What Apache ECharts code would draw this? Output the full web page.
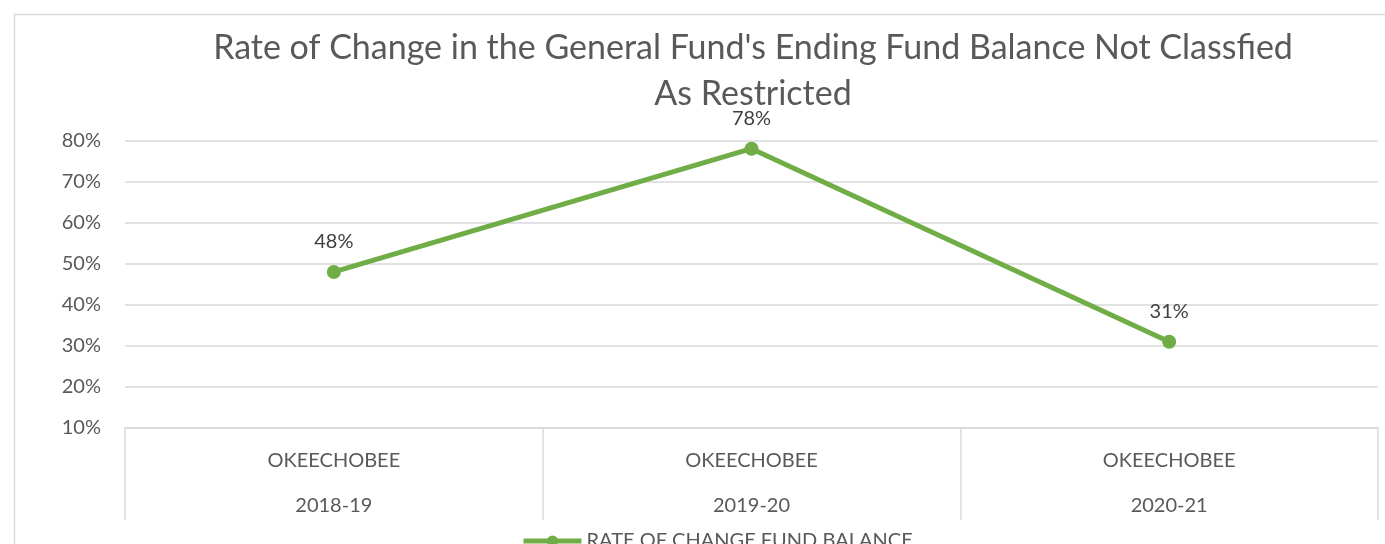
<!DOCTYPE html>
<html>
<head>
<meta charset="utf-8">
<script src="https://cdn.jsdelivr.net/npm/echarts@6/dist/echarts.min.js"></script>
<style>
  html, body { margin: 0; padding: 0; background: #fff; }
  #chart { width: 1385px; height: 544px; }
</style>
</head>
<body>
<div id="chart"></div>
<script>
// 数据
var districts = ['OKEECHOBEE', 'OKEECHOBEE', 'OKEECHOBEE'];
var years = ['2018-19', '2019-20', '2020-21'];
var rateValues = [48, 78, 31];
var seriesName = 'RATE OF CHANGE FUND BALANCE';

var categories = districts.map(function (d, i) { return d + '\n' + years[i]; });
var FONT = 'Lato';

var chart = echarts.init(document.getElementById('chart'));
var option = {
  backgroundColor: '#fff',
  textStyle: { fontFamily: FONT },
  graphic: [{
    type: 'rect',
    shape: { x: 14.5, y: 14.5, width: 1500, height: 600 },
    style: { fill: 'none', stroke: '#d9d9d9', lineWidth: 1.5 },
    silent: true
  }],
  title: {
    text: "Rate of Change in the General Fund's Ending Fund Balance Not Classfied\nAs Restricted",
    left: 748,
    top: 20,
    textAlign: 'center',
    textStyle: { fontFamily: FONT, fontSize: 34, fontWeight: 'normal', color: '#595959', lineHeight: 46 }
  },
  legend: {
    data: [seriesName],
    top: 526,
    left: 516,
    itemWidth: 58,
    itemHeight: 14,
    itemGap: 2,
    lineStyle: { width: 5 },
    textStyle: { fontFamily: FONT, fontSize: 20, color: '#595959' }
  },
  grid: { left: 125, right: 7, top: 140.5, bottom: 116 },
  xAxis: {
    type: 'category',
    data: categories,
    boundaryGap: true,
    axisLine: { lineStyle: { color: '#d9d9d9', width: 1.5 } },
    axisTick: { show: true, length: 92, lineStyle: { color: '#d9d9d9', width: 1.5 } },
    axisLabel: {
      margin: 10,
      fontFamily: FONT,
      fontSize: 20,
      color: '#595959',
      lineHeight: 45
    }
  },
  yAxis: {
    type: 'value',
    min: 10,
    max: 80,
    interval: 10,
    axisLine: { show: false },
    axisTick: { show: false },
    splitLine: { lineStyle: { color: '#d9d9d9', width: 1.5 } },
    axisLabel: {
      margin: 24,
      fontFamily: FONT,
      fontSize: 20,
      color: '#595959',
      formatter: '{value}%'
    }
  },
  series: [{
    name: seriesName,
    type: 'line',
    data: rateValues,
    symbol: 'circle',
    symbolSize: 14,
    lineStyle: { color: '#70ad47', width: 5 },
    itemStyle: { color: '#70ad47' },
    label: {
      show: true,
      position: 'top',
      distance: 13,
      fontFamily: FONT,
      fontSize: 20,
      color: '#404040',
      formatter: '{c}%'
    },
    animation: false
  }]
};
chart.setOption(option);
</script>
</body>
</html>
